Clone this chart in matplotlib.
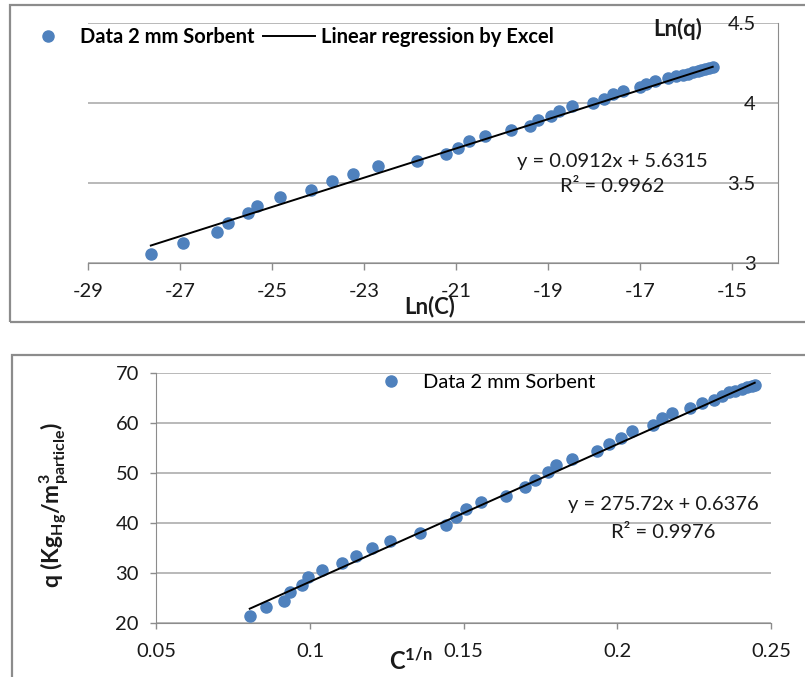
import matplotlib
matplotlib.use("Agg")
import matplotlib.pyplot as plt
from matplotlib.patches import Rectangle
import numpy as np

# ---------------- data ----------------
# Top panel: Ln(C) vs Ln(q)
ln_c = [-27.64, -26.93, -26.21, -25.96, -25.52, -25.33, -24.82, -24.16, -23.69,
        -23.24, -22.71, -21.86, -21.22, -20.96, -20.72, -20.38, -19.81, -19.40,
        -19.22, -18.94, -18.77, -18.47, -18.02, -17.79, -17.59, -17.37, -17.00,
        -16.88, -16.68, -16.39, -16.21, -16.07, -15.95, -15.85, -15.75, -15.67,
        -15.58, -15.50, -15.42]
ln_q = [3.056, 3.129, 3.194, 3.254, 3.313, 3.360, 3.413, 3.460, 3.514,
        3.556, 3.604, 3.639, 3.681, 3.719, 3.764, 3.796, 3.833, 3.858,
        3.896, 3.920, 3.951, 3.979, 4.000, 4.025, 4.056, 4.077, 4.098,
        4.118, 4.139, 4.156, 4.166, 4.177, 4.183, 4.190, 4.196, 4.203,
        4.210, 4.217, 4.225]
top_slope = 0.0912
top_intercept = 5.6315
top_r2 = "0.9962"
top_xticks = [-29, -27, -25, -23, -21, -19, -17, -15]
top_xticklabels = ["-29", "-27", "-25", "-23", "-21", "-19", "-17", "-15"]
top_yticks = [3, 3.5, 4, 4.5]
top_yticklabels = ["3", "3.5", "4", "4.5"]

# Bottom panel: C^(1/n) vs q
c_1n = [0.0804, 0.0856, 0.0915, 0.0936, 0.0974, 0.0992, 0.1039, 0.1104, 0.1151,
        0.1203, 0.1261, 0.1357, 0.1443, 0.1475, 0.1508, 0.1557, 0.1638, 0.1700,
        0.1733, 0.1773, 0.1800, 0.1854, 0.1935, 0.1973, 0.2011, 0.2047, 0.2116,
        0.2146, 0.2177, 0.2238, 0.2276, 0.2314, 0.2341, 0.2363, 0.2384, 0.2406,
        0.2422, 0.2438, 0.2447]
q_vals = [21.4, 23.1, 24.4, 26.1, 27.5, 29.2, 30.5, 31.9, 33.4,
          34.9, 36.4, 38.0, 39.5, 41.2, 42.7, 44.2, 45.5, 47.2,
          48.7, 50.2, 51.6, 52.9, 54.4, 55.9, 57.1, 58.4, 59.7,
          61.1, 62.0, 63.1, 64.0, 64.7, 65.5, 66.2, 66.5, 66.9,
          67.2, 67.5, 67.7]
bot_slope = 275.72
bot_intercept = 0.6376
bot_r2 = "0.9976"
bot_xticks = [0.05, 0.1, 0.15, 0.2, 0.25]
bot_xticklabels = ["0.05", "0.1", "0.15", "0.2", "0.25"]
bot_yticks = [20, 30, 40, 50, 60, 70]
bot_yticklabels = ["20", "30", "40", "50", "60", "70"]

series_label = "Data 2 mm Sorbent"
line_label = "Linear regression by Excel"

# ---------------- style ----------------
plt.rcParams["font.family"] = ["Lato", "DejaVu Sans"]
plt.rcParams["mathtext.fontset"] = "custom"
plt.rcParams["mathtext.rm"] = "Lato"
plt.rcParams["mathtext.bf"] = "Lato:bold"
plt.rcParams["mathtext.it"] = "Lato:italic"
plt.rcParams["mathtext.default"] = "bf"

BLUE = "#4F81BD"
GRID = "#a6a6a6"
AXC = "#8c8c8c"
TXT = "#1a1a1a"
FS = 14.5      # tick labels
FS_EQ = 14.5   # equations
FS_LEG = 14.5  # legends

W, H = 805, 677
fig = plt.figure(figsize=(W / 100, H / 100), dpi=100)


def px_rect(l, t, r, b):
    return [l / W, 1 - b / H, (r - l) / W, (b - t) / H]


# frames
fig.add_artist(Rectangle((10 / W, 1 - 322 / H), 1.2, (322 - 5) / H,
                         transform=fig.transFigure, fill=False, ec=AXC, lw=1.6))
fig.add_artist(Rectangle((12 / W, -0.1), 1.2, 0.1 + 1 - 355 / H,
                         transform=fig.transFigure, fill=False, ec=AXC, lw=1.6))

# ---------------- top panel ----------------
ax1 = fig.add_axes(px_rect(88.3, 22.7, 778, 263.3))
ax1.set_xlim(-29, -14)
ax1.set_ylim(3, 4.5)
ax1.plot(ln_c, ln_q, "o", color=BLUE, ms=8, mec=BLUE, label=series_label, zorder=3)
xs1 = np.array([min(ln_c), max(ln_c)])
ax1.plot(xs1, top_slope * xs1 + top_intercept, color="k", lw=1.4,
         label=line_label, zorder=4)
ax1.set_xticks(top_xticks, top_xticklabels)
ax1.set_yticks(top_yticks, top_yticklabels)
ax1.yaxis.grid(True, color=GRID, lw=1.1)
ax1.set_axisbelow(True)
for s in ("top", "right"):
    ax1.spines[s].set_visible(False)
ax1.spines["left"].set_position(("axes", 1.0))
ax1.spines["left"].set_color(AXC)
ax1.spines["bottom"].set_color(AXC)
ax1.tick_params(axis="y", length=0, pad=16, labelsize=FS, labelcolor=TXT)
ax1.tick_params(axis="x", length=5, width=1, color=AXC, pad=9, labelsize=FS,
                labelcolor=TXT)
ax1.set_xlabel("Ln(C)", fontsize=16, fontweight="bold", va="center", color=TXT)
ax1.xaxis.set_label_coords((430 - 88.3) / 689.7, -(307 - 263.3) / 240.6)
ax1.set_ylabel("Ln(q)", fontsize=16, fontweight="bold", rotation=0,
               ha="center", va="center", color=TXT)
ax1.yaxis.set_label_coords((678 - 88.3) / 689.7, (263.3 - 29) / 240.6)
ax1.text(-17.6, 3.634, f"y = {top_slope}x + {top_intercept}", ha="center",
         va="center", fontsize=FS_EQ, color=TXT)
ax1.text(-17.6, 3.478, f"R² = {top_r2}", ha="center", va="center",
         fontsize=FS_EQ, color=TXT)
ax1.legend(ncol=2, loc="center left", bbox_to_anchor=(22 / W, 1 - 37 / H),
           bbox_transform=fig.transFigure, frameon=False, handlelength=2.6,
           handletextpad=0.3, columnspacing=0.4, borderpad=0, borderaxespad=0,
           prop={"weight": "bold", "size": FS_LEG})

# ---------------- bottom panel ----------------
ax2 = fig.add_axes(px_rect(156.3, 373.3, 771, 622.7))
ax2.set_xlim(0.05, 0.25)
ax2.set_ylim(20, 70)
ax2.plot(c_1n, q_vals, "o", color=BLUE, ms=8, mec=BLUE, label=series_label, zorder=3)
xs2 = np.array([min(c_1n), max(c_1n)])
ax2.plot(xs2, bot_slope * xs2 + bot_intercept, color="k", lw=1.4,
         label="_nolegend_", zorder=4)
ax2.set_xticks(bot_xticks, bot_xticklabels)
ax2.set_yticks(bot_yticks, bot_yticklabels)
ax2.yaxis.grid(True, color=GRID, lw=1.1)
ax2.set_axisbelow(True)
for s in ("top", "right"):
    ax2.spines[s].set_visible(False)
ax2.spines["left"].set_color(AXC)
ax2.spines["bottom"].set_color(AXC)
ax2.tick_params(axis="both", length=4.5, width=1, color=AXC, labelsize=FS,
                labelcolor=TXT)
ax2.tick_params(axis="y", pad=8)
ax2.tick_params(axis="x", pad=10)
ax2.set_xlabel("$C^{1/n}$", fontsize=17, va="center", color=TXT)
ax2.xaxis.set_label_coords((411 - 156.3) / 614.7, -(661 - 622.7) / 249.4)
ax2.set_ylabel("q (Kg$_{Hg}$/m$^{3}_{particle}$)", fontsize=16.5,
               fontweight="bold", va="center", ha="center", color=TXT)
ax2.yaxis.set_label_coords((54 - 156.3) / 614.7, (622.7 - 505) / 249.4)
ax2.text(0.2149, 43.6, f"y = {bot_slope}x + {bot_intercept}", ha="center",
         va="center", fontsize=FS_EQ, color=TXT)
ax2.text(0.2149, 38.04, f"R² = {bot_r2}", ha="center", va="center",
         fontsize=FS_EQ, color=TXT)
ax2.legend(loc="center left", bbox_to_anchor=(365 / W, 1 - 382 / H),
           bbox_transform=fig.transFigure, frameon=False, handlelength=2.6,
           handletextpad=0.3, borderpad=0, borderaxespad=0,
           prop={"size": FS_LEG})

fig.savefig("out.png", dpi=100)
